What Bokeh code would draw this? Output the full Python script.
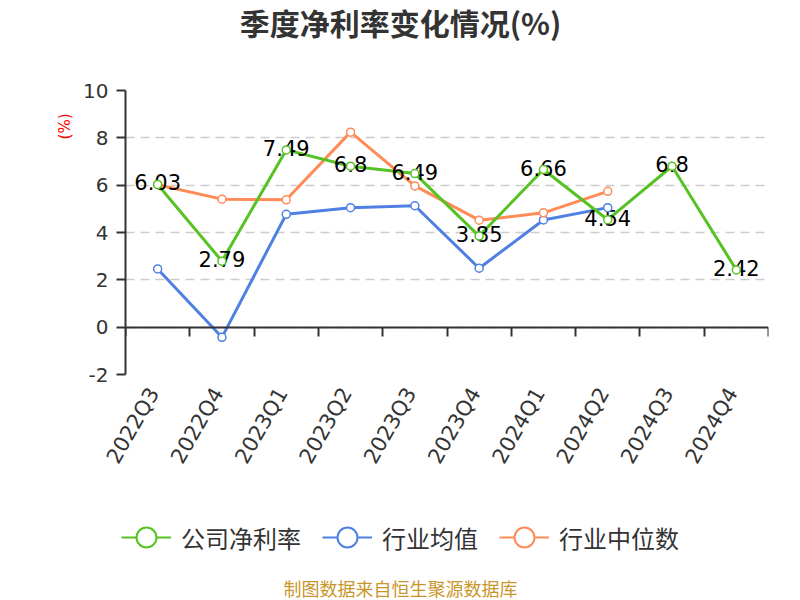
from math import pi
from bokeh.plotting import figure
from bokeh.layouts import column
from bokeh.models import (Range1d, FixedTicker, LinearAxis, Legend, Title, Label,
                          LegendItem, ColumnDataSource)
from bokeh.core.properties import value
from bokeh.embed import file_html
from bokeh.resources import INLINE

quarters = ["2022Q3", "2022Q4", "2023Q1", "2023Q2", "2023Q3",
            "2023Q4", "2024Q1", "2024Q2", "2024Q3", "2024Q4"]
company = [6.03, 2.79, 7.49, 6.8, 6.49, 3.85, 6.66, 4.54, 6.8, 2.42]
industry_avg = [2.46, -0.43, 4.77, 5.05, 5.13, 2.49, 4.53, 5.05]
industry_median = [6.02, 5.41, 5.38, 8.24, 5.97, 4.52, 4.83, 5.74]
y_ticks = [-2, 0, 2, 4, 6, 8, 10]
series_names = ["公司净利率", "行业均值", "行业中位数"]
title_text = "季度净利率变化情况(%)"
unit_text = "(%)"
source_text = "制图数据来自恒生聚源数据库"

GREEN = "#56c223"
BLUE = "#4f80e2"
ORANGE = "#ff8b57"
AXIS = "#333333"
NUM_FONT = "DejaVu Sans"
CJK_FONT = "Noto Sans CJK SC"

xs = [i + 0.5 for i in range(len(quarters))]

W = 800
H_TOP, H_MAIN, H_BOT = 50, 455, 95


def blank(height, y0=0):
    f = figure(width=W, height=height, output_backend="svg",
               toolbar_location=None, x_range=Range1d(0, 1),
               y_range=Range1d(y0, y0 + 1), x_axis_type=None,
               y_axis_type=None, min_border=0, frame_align=False)
    f.outline_line_color = None
    f.grid.grid_line_color = None
    return f


# ---------- title strip ----------
top = blank(H_TOP)
top.add_layout(Label(x=W / 2, y=H_TOP - 21, x_units="screen", y_units="screen",
                     text=title_text, text_align="center",
                     text_baseline="middle", text_font=CJK_FONT,
                     text_font_size="30px", text_font_style="bold",
                     text_color=AXIS))

# ---------- main chart ----------
FL, FR = 125, 768
p = figure(width=W, height=H_MAIN, output_backend="svg", toolbar_location=None,
           x_range=Range1d(0, len(quarters)), y_range=Range1d(-2, 10),
           min_border_left=FL, min_border_right=W - FR,
           min_border_top=40, min_border_bottom=131, frame_align=False)
p.outline_line_color = None

yax = p.yaxis[0]
yax.ticker = FixedTicker(ticks=y_ticks)
yax.major_label_overrides = {t: str(t) for t in y_ticks}
yax.axis_line_color = AXIS
yax.axis_line_width = 2
yax.major_tick_line_color = AXIS
yax.major_tick_line_width = 2
yax.major_tick_out = 9
yax.major_tick_in = 0
yax.minor_tick_line_color = None
yax.major_label_text_font = NUM_FONT
yax.major_label_text_font_size = "20px"
yax.major_label_text_color = AXIS
yax.major_label_standoff = 8

p.add_layout(Title(text=unit_text, align="right", offset=23,
                   text_font=NUM_FONT, text_font_size="15px",
                   text_font_style="normal", text_color="#ff0000",
                   standoff=14), "left")

lab_shift = 0.06
xax = p.xaxis[0]
xax.ticker = FixedTicker(ticks=[x - lab_shift for x in xs])
xax.major_label_overrides = {x - lab_shift: q for x, q in zip(xs, quarters)}
xax.axis_line_color = None
xax.major_tick_line_color = None
xax.minor_tick_line_color = None
xax.major_label_orientation = pi / 3
xax.major_label_text_font = NUM_FONT
xax.major_label_text_font_size = "21px"
xax.major_label_text_color = AXIS
xax.major_label_standoff = 9

zax = LinearAxis(fixed_location=0,
                 ticker=FixedTicker(ticks=list(range(len(quarters) + 1))))
zax.axis_line_color = AXIS
zax.axis_line_width = 2
zax.major_tick_line_color = AXIS
zax.major_tick_line_width = 2
zax.major_tick_out = 0
zax.major_tick_in = 9
zax.minor_tick_line_color = None
zax.major_label_text_font_size = "0px"
zax.major_label_text_alpha = 0
zax.major_label_standoff = 0
p.add_layout(zax, "above")

p.xgrid.grid_line_color = None
p.ygrid.ticker = FixedTicker(ticks=y_ticks)
p.ygrid.grid_line_color = "#cccccc"
p.ygrid.grid_line_width = 1.5
p.ygrid.grid_line_dash = "9 6"

src_c = ColumnDataSource(dict(x=xs, y=company, t=[f"{v:g}" for v in company]))
src_a = ColumnDataSource(dict(x=xs[:len(industry_avg)], y=industry_avg))
src_m = ColumnDataSource(dict(x=xs[:len(industry_median)], y=industry_median))

p.line("x", "y", source=src_a, color=BLUE, line_width=3)
p.line("x", "y", source=src_m, color=ORANGE, line_width=3)
p.line("x", "y", source=src_c, color=GREEN, line_width=3)

p.text("x", "y", text="t", source=src_c, text_align="center",
       text_baseline="middle", y_offset=-2, text_font=value(NUM_FONT),
       text_font_size="21px", text_color="black")

for src, col in [(src_a, BLUE), (src_m, ORANGE), (src_c, GREEN)]:
    p.scatter("x", "y", source=src, size=8, marker="circle",
              fill_color="white", line_color=col, line_width=1.5)

# ---------- legend + source strip ----------
# y range far above the data so the series renderers here draw nothing
bot = blank(H_BOT, y0=1000)
items = []
for name, col, src in zip(series_names, [GREEN, BLUE, ORANGE],
                          [src_c, src_a, src_m]):
    lr = bot.line("x", "y", source=src, color=col, line_width=2)
    sr = bot.scatter("x", "y", source=src, size=20, marker="circle",
                     fill_color="white", line_color=col, line_width=2)
    items.append(LegendItem(label=name, renderers=[lr, sr]))

legend = Legend(items=items, orientation="horizontal",
                location=(121, 38), glyph_width=50, glyph_height=50,
                label_standoff=10, spacing=21, padding=0, margin=0,
                border_line_color=None, background_fill_alpha=0,
                label_text_font=CJK_FONT, label_text_font_size="24px",
                label_text_color=AXIS)
bot.add_layout(legend, "center")

bot.add_layout(Label(x=W / 2, y=13, x_units="screen", y_units="screen",
                     text=source_text, text_align="center",
                     text_baseline="middle", text_font=CJK_FONT,
                     text_font_size="18px", text_color="#c9962c"))

open("out.html", "w").write(file_html(column(top, p, bot), INLINE))
